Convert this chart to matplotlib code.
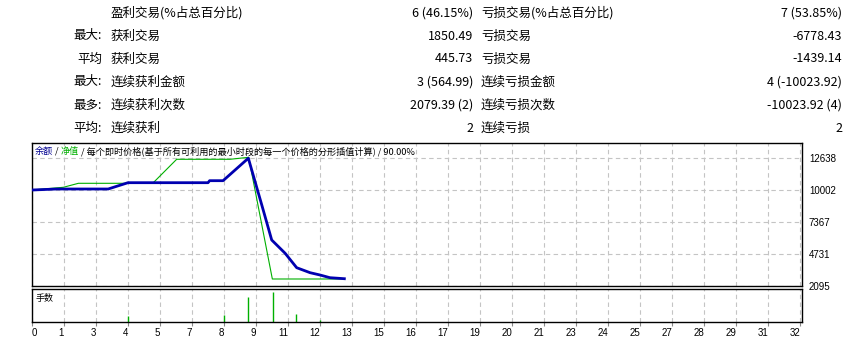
import matplotlib
matplotlib.use("Agg")
import matplotlib.pyplot as plt

# summary table (rows of the report above the chart)
row_prefix = ["", "最大:", "平均", "最大:", "最多:", "平均:"]
win_labels = ["盈利交易(%占总百分比)", "获利交易", "获利交易", "连续获利金额", "连续获利次数", "连续获利"]
win_values = ["6 (46.15%)", "1850.49", "445.73", "3 (564.99)", "2079.39 (2)", "2"]
loss_labels = ["亏损交易(%占总百分比)", "亏损交易", "亏损交易", "连续亏损金额", "连续亏损次数", "连续亏损"]
loss_values = ["7 (53.85%)", "-6778.43", "-1439.14", "4 (-10023.92)", "-10023.92 (4)", "2"]

# balance curve (x = position on trade axis)
balance_x = [0, 0.77, 2.38, 3.0, 5.5, 5.55, 5.97, 6.76, 7.18, 7.49, 7.91, 8.27, 8.69, 9.0, 9.31, 9.76]
balance_y = [10002, 10085, 10085, 10605, 10605, 10770, 10770, 12620, 8768, 5885, 4789, 3603, 3191, 3001, 2779, 2696]

# equity curve
equity_x = [0, 0.98, 1.45, 3.0, 3.79, 4.52, 6.19, 6.77, 7.51, 9.76]
equity_y = [10002, 10226, 10555, 10555, 10605, 12533, 12533, 12697, 2672, 2672]

# lots
lot_x = [3.0, 6.0, 6.76, 7.52, 8.25, 9.0]
lot_y = [0.20, 0.24, 0.84, 1.00, 0.27, 0.08]

x_labels = ["0", "1", "3", "4", "5", "7", "8", "9", "11", "12", "13", "15", "16",
            "17", "19", "20", "21", "23", "24", "25", "27", "28", "29", "31", "32"]
y_ticks = [2095, 4731, 7367, 10002, 12638]

cjk = ["Noto Sans CJK SC", "DejaVu Sans"]
num_font = "Liberation Sans"

W, H = 863, 342
fig = plt.figure(figsize=(W / 100, H / 100), dpi=100)
fig.patch.set_facecolor("white")

# ---- table ----
row_y = [13, 36, 59, 82, 105, 128]
for i in range(len(row_y)):
    y = 1 - row_y[i] / H
    fig.text(102 / W, y, row_prefix[i], ha="right", va="center", fontsize=9, family=cjk)
    fig.text(111 / W, y, win_labels[i], ha="left", va="center", fontsize=9, family=cjk)
    fig.text(473 / W, y, win_values[i], ha="right", va="center", fontsize=9, family=cjk)
    fig.text(481 / W, y, loss_labels[i], ha="left", va="center", fontsize=9, family=cjk)
    fig.text(842 / W, y, loss_values[i], ha="right", va="center", fontsize=9, family=cjk)

# ---- axes ----
left, right = 32 / W, 802 / W
ax = fig.add_axes([left, 1 - 286 / H, right - left, (286 - 143) / H])
ax2 = fig.add_axes([left, 1 - 322 / H, right - left, (322 - 289) / H])

xmax = 24.06
grid_kw = dict(color="#c4c4c4", lw=0.8, ls=(0, (4, 3)))

ax.plot(equity_x, equity_y, color="#00b000", lw=0.8, zorder=3)
ax.plot(balance_x, balance_y, color="#0000b0", lw=2.0, zorder=4)
ax.set_xlim(0, xmax)
ax.set_ylim(2095, 2095 + (286 - 143) / 32 * 2636)
ax.set_xticks(range(len(x_labels)))
ax.set_yticks(y_ticks)
ax.grid(True, **grid_kw)
ax.tick_params(axis="x", length=0, labelbottom=False)
ax.tick_params(axis="y", length=0, left=False, labelleft=False, right=True,
               labelright=True, pad=5, labelsize=7)
for lab in ax.get_yticklabels():
    lab.set_family(num_font)

ax2.vlines(lot_x, 0, lot_y, color="#00b000", lw=1.0)
ax2.set_xlim(0, xmax)
ax2.set_ylim(0, 1.09)
ax2.set_yticks([])
ax2.set_xticks(range(len(x_labels)))
ax2.set_xticklabels(x_labels)
ax2.grid(True, axis="x", **grid_kw)
ax2.tick_params(axis="x", length=3, width=0.8, color="#888888", pad=1, labelsize=7)
for k, lab in enumerate(ax2.get_xticklabels()):
    lab.set_family(num_font)
    lab.set_ha("left" if k == 0 else "right")

for a in (ax, ax2):
    for s in a.spines.values():
        s.set_color("black")
        s.set_linewidth(1.0)
    a.set_axisbelow(True)

ax2.text(4 / 770, 0.72, "手数", transform=ax2.transAxes, fontsize=6.5, family=cjk,
         ha="left", va="center")

# multi-coloured legend line at top of main panel
pieces = [("余额", "#000090"), (" / ", "black"), ("净值", "#00b000"),
          (" / 每个即时价格(基于所有可利用的最小时段的每一个价格的分形插值计算) / 90.00%", "black")]
renderer = fig.canvas.get_renderer()
xpos = 35 / W
for txt, col in pieces:
    t = fig.text(xpos, 1 - 151 / H, txt, color=col, fontsize=6.6, family=cjk,
                 ha="left", va="center")
    bb = t.get_window_extent(renderer=renderer)
    xpos += bb.width / W

fig.savefig("out.png", dpi=100, facecolor="white")
